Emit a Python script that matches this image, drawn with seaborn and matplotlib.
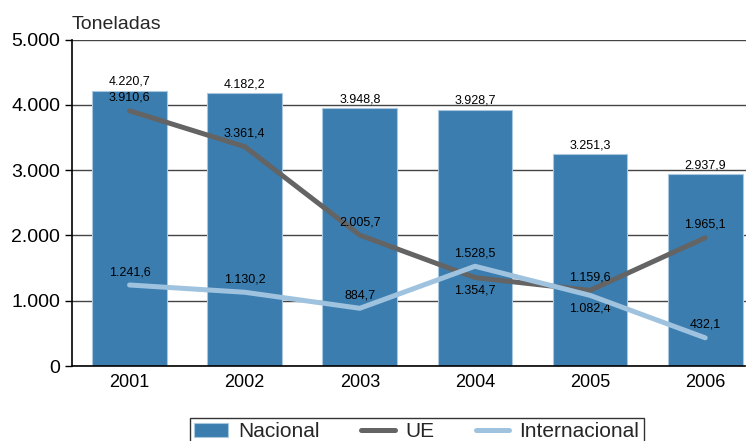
import numpy as np
import pandas as pd
import matplotlib
matplotlib.use("Agg")
import matplotlib.pyplot as plt
import seaborn as sns
from matplotlib.ticker import FuncFormatter

anos = ["2001", "2002", "2003", "2004", "2005", "2006"]
nacional = [4220.7, 4182.2, 3948.8, 3928.7, 3251.3, 2937.9]
ue = [3910.6, 3361.4, 2005.7, 1354.7, 1159.6, 1965.1]
internacional = [1241.6, 1130.2, 884.7, 1528.5, 1082.4, 432.1]

# posição do rótulo: 1 = acima, -1 = abaixo
pos_ue = [1, 1, 1, -1, 1, 1]
pos_int = [1, 1, 1, 1, -1, 1]

sns.set_style("white")
plt.rcParams["font.family"] = ["Liberation Sans", "DejaVu Sans"]

cor_bar = "#3b7daf"
cor_ue = "#646464"
cor_int = "#9fc3df"

def fmt(v):
    s = f"{v:,.1f}"
    return s.replace(",", "X").replace(".", ",").replace("X", ".")

df = pd.DataFrame({"ano": anos, "nacional": nacional, "ue": ue,
                   "internacional": internacional, "i": range(len(anos))})

fig = plt.figure(figsize=(7.5, 4.41), dpi=100)
ax = fig.add_axes([0.096, 0.17, 0.898, 0.74])

ax.yaxis.grid(True, color="#444444", linewidth=1.0, zorder=0)
ax.set_axisbelow(True)

sns.barplot(data=df, x="ano", y="nacional", color=cor_bar, width=0.65,
            edgecolor="#a9c8e0", linewidth=0.8, saturation=1, ax=ax,
            label="Nacional", zorder=2)
sns.lineplot(data=df, x="i", y="ue", color=cor_ue, linewidth=3.6, ax=ax,
             label="UE", zorder=3)
sns.lineplot(data=df, x="i", y="internacional", color=cor_int, linewidth=3.6,
             ax=ax, label="Internacional", zorder=4)

for i, v in enumerate(nacional):
    ax.annotate(fmt(v), (i, v), xytext=(0, 2), textcoords="offset points",
                ha="center", va="bottom", fontsize=9, color="black")
for serie, pos in [(ue, pos_ue), (internacional, pos_int)]:
    for i, v in enumerate(serie):
        off = 5 if pos[i] > 0 else -5
        ax.annotate(fmt(v), (i, v), xytext=(0, off), textcoords="offset points",
                    ha="center", va="bottom" if off > 0 else "top",
                    fontsize=9, color="black")

ax.set_xlim(-0.5, 5.35)
ax.set_ylim(0, 5000)
ax.set_yticks([0, 1000, 2000, 3000, 4000, 5000])
ax.yaxis.set_major_formatter(FuncFormatter(lambda v, p: f"{int(v):,}".replace(",", ".")))
ax.set_xlabel("")
ax.set_ylabel("")
ax.tick_params(axis="y", labelsize=14, length=5, width=1, color="black",
               left=True, labelcolor="black")
ax.tick_params(axis="x", labelsize=13, length=0, pad=6, labelcolor="black")

for s in ["left", "bottom"]:
    ax.spines[s].set_color("black")
    ax.spines[s].set_linewidth(1.2)
ax.spines["top"].set_visible(False)
ax.spines["right"].set_visible(False)

ax.text(0.0, 1.02, "Toneladas", transform=ax.transAxes, fontsize=14,
        ha="left", va="bottom")

h, l = ax.get_legend_handles_labels()
ordem = [l.index(n) for n in ["Nacional", "UE", "Internacional"]]
leg = ax.legend([h[k] for k in ordem], [l[k] for k in ordem],
                loc="upper center", bbox_to_anchor=(0.512, -0.14), ncol=3,
                fontsize=15, frameon=True, fancybox=False, edgecolor="black",
                handlelength=1.6, columnspacing=2.0, borderpad=0.2,
                handletextpad=0.5, borderaxespad=0.3)
leg.get_frame().set_linewidth(1.0)

fig.savefig("out.png", dpi=100)
